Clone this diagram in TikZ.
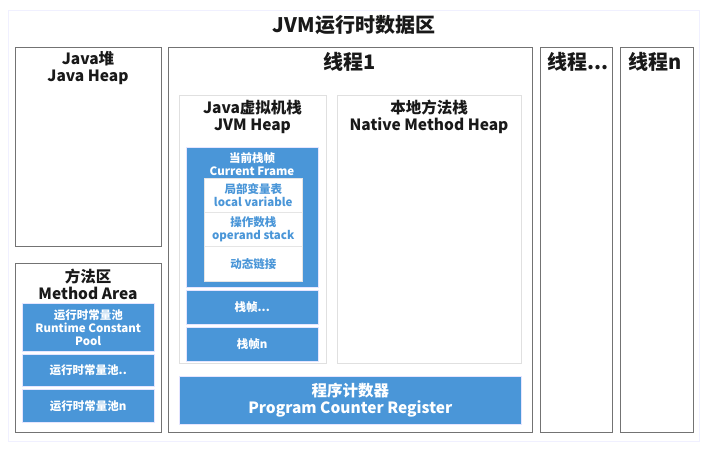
\documentclass[tikz,border=0pt]{standalone}
\usepackage{fontspec}
\setmainfont{Noto Sans CJK SC}
\begin{document}
\begin{tikzpicture}[x=1pt,y=-1pt,
  outer/.style={draw=black!55, line width=0.9pt, fill=white, anchor=north west, inner sep=0pt},
  inbox/.style={draw=black!12, line width=0.7pt, fill=white, anchor=north west, inner sep=0pt},
  bluebox/.style={draw=blue!10!white, line width=0.5pt, fill=jblue, anchor=north west, inner sep=0pt},
  whitebox/.style={draw=black!10, line width=0.5pt, fill=white, anchor=north west, inner sep=0pt},
  head/.style={font=\fontsize{15.5}{17}\selectfont\bfseries, align=center, text=black!90, inner sep=0pt},
  big/.style={font=\fontsize{20}{22}\selectfont\bfseries, text=black!90, inner sep=0pt},
  wlab/.style={font=\fontsize{11.5}{13}\selectfont\bfseries, align=center, text=white, inner sep=0pt},
  blab/.style={font=\fontsize{11.5}{13}\selectfont\bfseries, align=center, text=jblue, inner sep=0pt}]
\definecolor{jblue}{HTML}{4A96D8}
\useasboundingbox (0,0) rectangle (709,451);
\fill[white] (0,0) rectangle (709,451);
\draw[draw=blue!6!white, line width=1pt, fill=white] (8,10) rectangle (699,441);

\node[big] (title) at (354,25) {JVM运行时数据区};

% Java heap
\node[outer, minimum width=146, minimum height=199] (heap) at (15,47) {};
\node[head] (heaplab) at (88,68) {Java堆\\Java Heap};

% Method area
\node[outer, minimum width=146, minimum height=169] (method) at (15,263) {};
\node[head] (methodlab) at (88,284.5) {方法区\\Method Area};
\node[bluebox, minimum width=132, minimum height=48] (rcp1) at (22,303) {};
\node[wlab] at (rcp1.center) {运行时常量池\\Runtime Constant\\Pool};
\node[bluebox, minimum width=132, minimum height=32] (rcp2) at (22,354) {};
\node[wlab] at (rcp2.center) {运行时常量池..};
\node[bluebox, minimum width=132, minimum height=33] (rcp3) at (22,389) {};
\node[wlab] at (rcp3.center) {运行时常量池n};

% Thread 1
\node[outer, minimum width=364, minimum height=385] (t1) at (168,47) {};
\node[big] (t1lab) at (350,62) {线程1};

\node[inbox, minimum width=147, minimum height=268] (jvms) at (179,95) {};
\node[head] (jvmslab) at (252.5,117) {Java虚拟机栈\\JVM Heap};

\node[bluebox, minimum width=132, minimum height=140] (cur) at (186,147) {};
\node[wlab] (curlab) at (252,164) {当前栈帧\\Current Frame};
\node[whitebox, minimum width=98, minimum height=34] (lv) at (204,178) {};
\node[blab] at (lv.center) {局部变量表\\local variable};
\node[whitebox, minimum width=98, minimum height=34] (os) at (204,212) {};
\node[blab] at (os.center) {操作数栈\\operand stack};
\node[whitebox, minimum width=98, minimum height=35] (dl) at (204,246) {};
\node[blab] at (dl.center) {动态链接};

\node[bluebox, minimum width=132, minimum height=34] (sf2) at (186,290) {};
\node[wlab] at (sf2.center) {栈帧...};
\node[bluebox, minimum width=132, minimum height=34] (sfn) at (186,327) {};
\node[wlab] at (sfn.center) {栈帧n};

\node[inbox, minimum width=184, minimum height=268] (nms) at (337,95) {};
\node[head] (nmslab) at (429,117) {本地方法栈\\Native Method Heap};

\node[bluebox, minimum width=342, minimum height=48] (pc) at (179,376) {};
\node[wlab, font=\fontsize{15.5}{17}\selectfont\bfseries] at (pc.center) {程序计数器\\Program Counter Register};

% Thread ... and n
\node[outer, minimum width=72, minimum height=385] (t2) at (540,47) {};
\node[big, anchor=west] (t2lab) at (547,62) {线程...};
\node[outer, minimum width=73, minimum height=385] (tn) at (620,47) {};
\node[big, anchor=west] (tnlab) at (628,62) {线程n};
\end{tikzpicture}
\end{document}
